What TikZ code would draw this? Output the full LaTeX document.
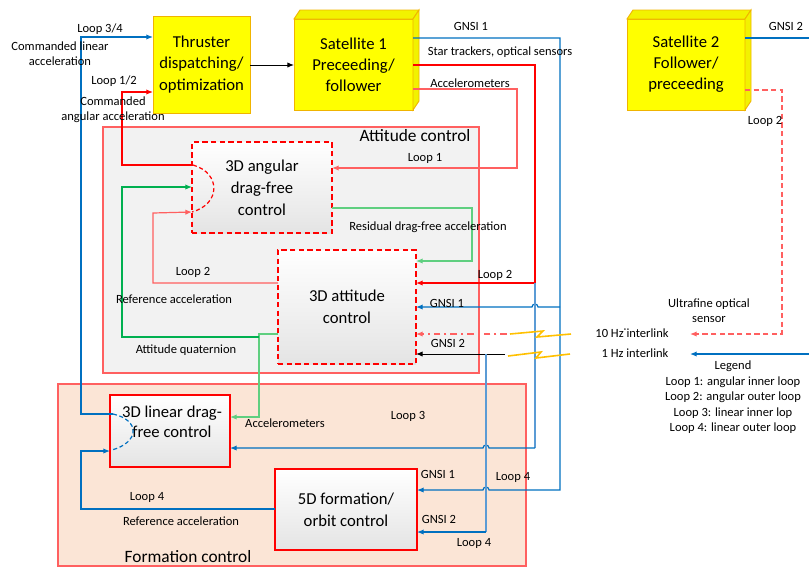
\documentclass[tikz,border=0pt]{standalone}
\usepackage{fontspec}
\setmainfont{Carlito}
\usetikzlibrary{arrows.meta}
\definecolor{cred}{HTML}{FF0000}
\definecolor{lred}{HTML}{FF6060}
\definecolor{cblue}{HTML}{0070C0}
\definecolor{lblue}{HTML}{5B9BD5}
\definecolor{cgreen}{HTML}{00B050}
\definecolor{lgreen}{HTML}{5FCF80}
\definecolor{attfill}{HTML}{F2F2F2}
\definecolor{formfill}{HTML}{FBE5D6}
\definecolor{yel}{HTML}{FFFF00}
\definecolor{sidey}{HTML}{F2F200}
\definecolor{gold}{HTML}{F0B400}
\definecolor{bolt}{HTML}{FFC000}
\definecolor{boxbot}{HTML}{E4E4E4}
\begin{document}
\begin{tikzpicture}[x=0.75pt,y=-0.75pt,
  arr/.style={-{Latex[length=5pt,width=4pt]}},
  ln/.style={line width=0.9pt},
  lab/.style={font=\fontsize{9.4}{11}\selectfont, inner sep=0pt, align=center},
  ttl/.style={font=\fontsize{13}{15}\selectfont, inner sep=0pt, align=center},
  ybox/.style={draw=gold, fill=yel, line width=0.7pt, inner sep=0pt, outer sep=0pt, align=center, font=\fontsize{12.5}{15.8}\selectfont},
  ctrl/.style={draw=cred, line width=0.8pt, top color=white, bottom color=boxbot, inner sep=0pt, outer sep=0pt, align=center, font=\fontsize{12.5}{16.5}\selectfont},
  dctrl/.style={ctrl, dash pattern=on 4pt off 2.5pt},
  cont/.style={draw=lred, line width=0.9pt, inner sep=0pt, outer sep=0pt},
  bolts/.style={draw=bolt, line width=1.2pt}]
\useasboundingbox (0,0) rectangle (809,568);

% containers
\node[cont, fill=attfill, minimum width=282pt, minimum height=184.5pt] (attc) at (291,250) {};
\node[cont, fill=formfill, minimum width=351pt, minimum height=136.5pt] (formc) at (292,475) {};
\node[ttl] (attt) at (415,136) {Attitude control};
\node[ttl] (formt) at (188,557) {Formation control};

% satellites and thruster
\node[ybox, minimum width=72.75pt, minimum height=72.75pt] (thruster) at (201.5,64.5) {Thruster\\dispatching/\\optimization};
\node[ybox, minimum width=89.25pt, minimum height=68.25pt] (sat1) at (353.5,64.5) {Satellite 1\\Preceeding/\\follower};
\filldraw[draw=gold, fill=sidey, line width=0.7pt] (sat1.north west) -- ++(6,-9) -- ++(119,0) -- (sat1.north east) -- cycle;
\filldraw[draw=gold, fill=sidey, line width=0.7pt] (sat1.north east) -- ++(6,-9) -- ++(0,91) -- (sat1.south east) -- cycle;
\node[ybox, minimum width=88.5pt, minimum height=68.25pt] (sat2) at (686,64.5) {Satellite 2\\Follower/\\preceeding};
\filldraw[draw=gold, fill=sidey, line width=0.7pt] (sat2.north west) -- ++(6,-9) -- ++(118,0) -- (sat2.north east) -- cycle;
\filldraw[draw=gold, fill=sidey, line width=0.7pt] (sat2.north east) -- ++(6,-9) -- ++(0,91) -- (sat2.south east) -- cycle;

% control boxes
\node[dctrl, minimum width=105pt, minimum height=68.25pt] (angdf) at (262,187.5) {3D angular\\drag-free\\control};
\node[dctrl, minimum width=103.5pt, minimum height=85.5pt] (att) at (347,307) {3D attitude\\control};
\node[ctrl, minimum width=90pt, minimum height=54pt] (lindf) at (170,431) {};
\node[inner sep=0pt, align=center, font=\fontsize{12.5}{15}\selectfont] (lindft) at (172,422) {3D linear drag-\\free control};
\node[ctrl, minimum width=106.5pt, minimum height=60.75pt] (form) at (346,509.5) {5D formation/\\orbit control};

% coordinates
\coordinate (arcA) at (193,165);
\coordinate (arcB) at (192,212);
\coordinate (arcC) at (113,414);
\coordinate (arcD) at (112,450);
\coordinate (j535) at (535,283);
\coordinate (j486) at (486,354);
\coordinate (j259) at (259,337);
\coordinate (lnk10) at (507,334);
\coordinate (lnk1) at (505,354);
\coordinate (rgt38) at (809,38);
\coordinate (rgt354) at (809,354);
\coordinate (tip10) at (690,334);
\coordinate (tip1) at (690,354);

% dashed arcs
\draw[cred, ln, dash pattern=on 3pt off 2pt] (arcA) .. controls (221,173) and (221,204) .. (arcB);
\draw[cblue, ln, dash pattern=on 3pt off 2pt] (arcC) .. controls (140,420) and (140,442) .. (arcD);

% thruster -> sat1
\draw[arr, black, line width=0.7pt] (thruster.east |- 0,65) -- (sat1.west |- 0,65);

% loop 3/4 commanded linear acceleration
\draw[arr, cblue, ln] (arcC) -- (81,414) -- (81,37) -- (thruster.west |- 0,37);
% loop 1/2 commanded angular acceleration
\draw[arr, cred, ln] (arcA) -- (122,165) -- (122,92) -- (thruster.west |- 0,92);

% GNSI 1 from sat1
\draw[arr, cblue, ln] (sat1.east |- 0,38) -- (560,38) -- (560,490) -- (489,490) arc[start angle=0, end angle=180, radius=2.25pt] -- (form.east |- 0,490);
\draw[arr, cblue, ln] (560,307) -- (538,307) arc[start angle=0, end angle=180, radius=2.25pt] -- (att.east |- 0,307);

% star trackers
\draw[arr, cred, ln] (sat1.east |- 0,65) -- (535,65) -- (j535) -- (att.east |- 0,283);
% accelerometers / loop 1
\draw[arr, lred, ln] (sat1.east |- 0,89) -- (517,89) -- (517,168) -- (angdf.east |- 0,168);

% blue x=535 to 3D linear drag-free
\draw[lblue, line width=1.1pt] (j535) -- (535,448);
\draw[arr, cblue, ln] (535,448) -- (489,448) arc[start angle=0, end angle=180, radius=2.25pt] -- (lindf.east |- 0,448);

% GNSI 2 from sat2
\draw[cblue, ln] (sat2.east |- 0,38) -- (rgt38);
% 1 Hz interlink
\draw[arr, cblue, ln] (rgt354) -- (tip1);
% 10 Hz interlink (ultrafine optical sensor)
\draw[arr, lred, ln, dash pattern=on 4pt off 2.5pt] (sat2.east |- 0,90) -- (782,90) -- (782,334) -- (tip10);

% after interlinks
\draw[arr, lred, ln, dash pattern=on 5pt off 3pt on 1.5pt off 3pt] (lnk10) -- (att.east |- 0,334);
\draw[arr, black, line width=0.7pt] (lnk1) -- (att.east |- 0,354);
\draw[lblue, line width=1.1pt] (j486) -- (486,532);
\draw[arr, cblue, ln] (486,532) -- (form.east |- 0,532);

% residual drag-free acceleration
\draw[arr, lgreen, ln] (angdf.east |- 0,208) -- (472,208) -- (472,261) -- (att.east |- 0,261);
% loop 2 reference acceleration
\draw[arr, lred, ln] (att.west |- 0,283) -- (153,283) -- (153,213) -- (arcB);
% attitude quaternion
\draw[arr, lgreen, ln] (att.west |- 0,334) -- (259,334) -- (259,417) -- (lindf.east |- 0,417);
\draw[arr, cgreen, ln] (j259) -- (122,337) -- (122,187) -- (angdf.west |- 0,187);
% loop 4 reference acceleration
\draw[arr, cblue, ln] (form.west |- 0,509) -- (81,509) -- (81,451) -- (lindf.west |- 0,451);

% lightning bolts
\draw[bolts] (510,334) -- (543,331) -- (537,337) -- (571,334);
\draw[bolts] (508,356) -- (541,352) -- (536,358) -- (570,354);

% labels
\node[lab] (t1) at (100,29) {Loop 3/4};
\node[lab] (t2) at (60,46) {Commanded linear};
\node[lab] (t3) at (60,61) {acceleration};
\node[lab] (t4) at (114,81) {Loop 1/2};
\node[lab] (t5) at (113,101) {Commanded};
\node[lab] (t6) at (113,117) {angular acceleration};
\node[lab] (t7) at (471,26) {GNSI 1};
\node[lab] (t8) at (500,52) {Star trackers, optical sensors};
\node[lab] (t9) at (470,83) {Accelerometers};
\node[lab] (t10) at (786,26) {GNSI 2};
\node[lab] (t11) at (765,121) {Loop 2};
\node[lab] (t12) at (425,158) {Loop 1};
\node[lab] (t13) at (428,227) {Residual drag-free acceleration};
\node[lab] (t14) at (495,275) {Loop 2};
\node[lab] (t15) at (193,272) {Loop 2};
\node[lab] (t16) at (174,299) {Reference acceleration};
\node[lab] (t17) at (186,350) {Attitude quaternion};
\node[lab] (t18) at (447,303) {GNSI 1};
\node[lab] (t19) at (448,343) {GNSI 2};
\node[lab] (t20) at (709,304) {Ultrafine optical};
\node[lab] (t21) at (709,319) {sensor};
\node[lab] (t22) at (632,333) {10 Hz˙interlink};
\node[lab] (t23) at (635,353) {1 Hz interlink};
\node[lab] (t24) at (733,366) {Legend};
\node[lab] (t25) at (733,382) {Loop 1: angular inner loop};
\node[lab] (t26) at (733,397) {Loop 2: angular outer loop};
\node[lab] (t27) at (733,413) {Loop 3: linear inner lop};
\node[lab] (t28) at (733,428) {Loop 4: linear outer loop};
\node[lab] (t29) at (285,423) {Accelerometers};
\node[lab] (t30) at (408,416) {Loop 3};
\node[lab] (t31) at (438,474) {GNSI 1};
\node[lab] (t32) at (439,519) {GNSI 2};
\node[lab] (t33) at (513,477) {Loop 4};
\node[lab] (t34) at (474,543) {Loop 4};
\node[lab] (t35) at (147,497) {Loop 4};
\node[lab] (t36) at (181,521) {Reference acceleration};
\end{tikzpicture}
\end{document}
